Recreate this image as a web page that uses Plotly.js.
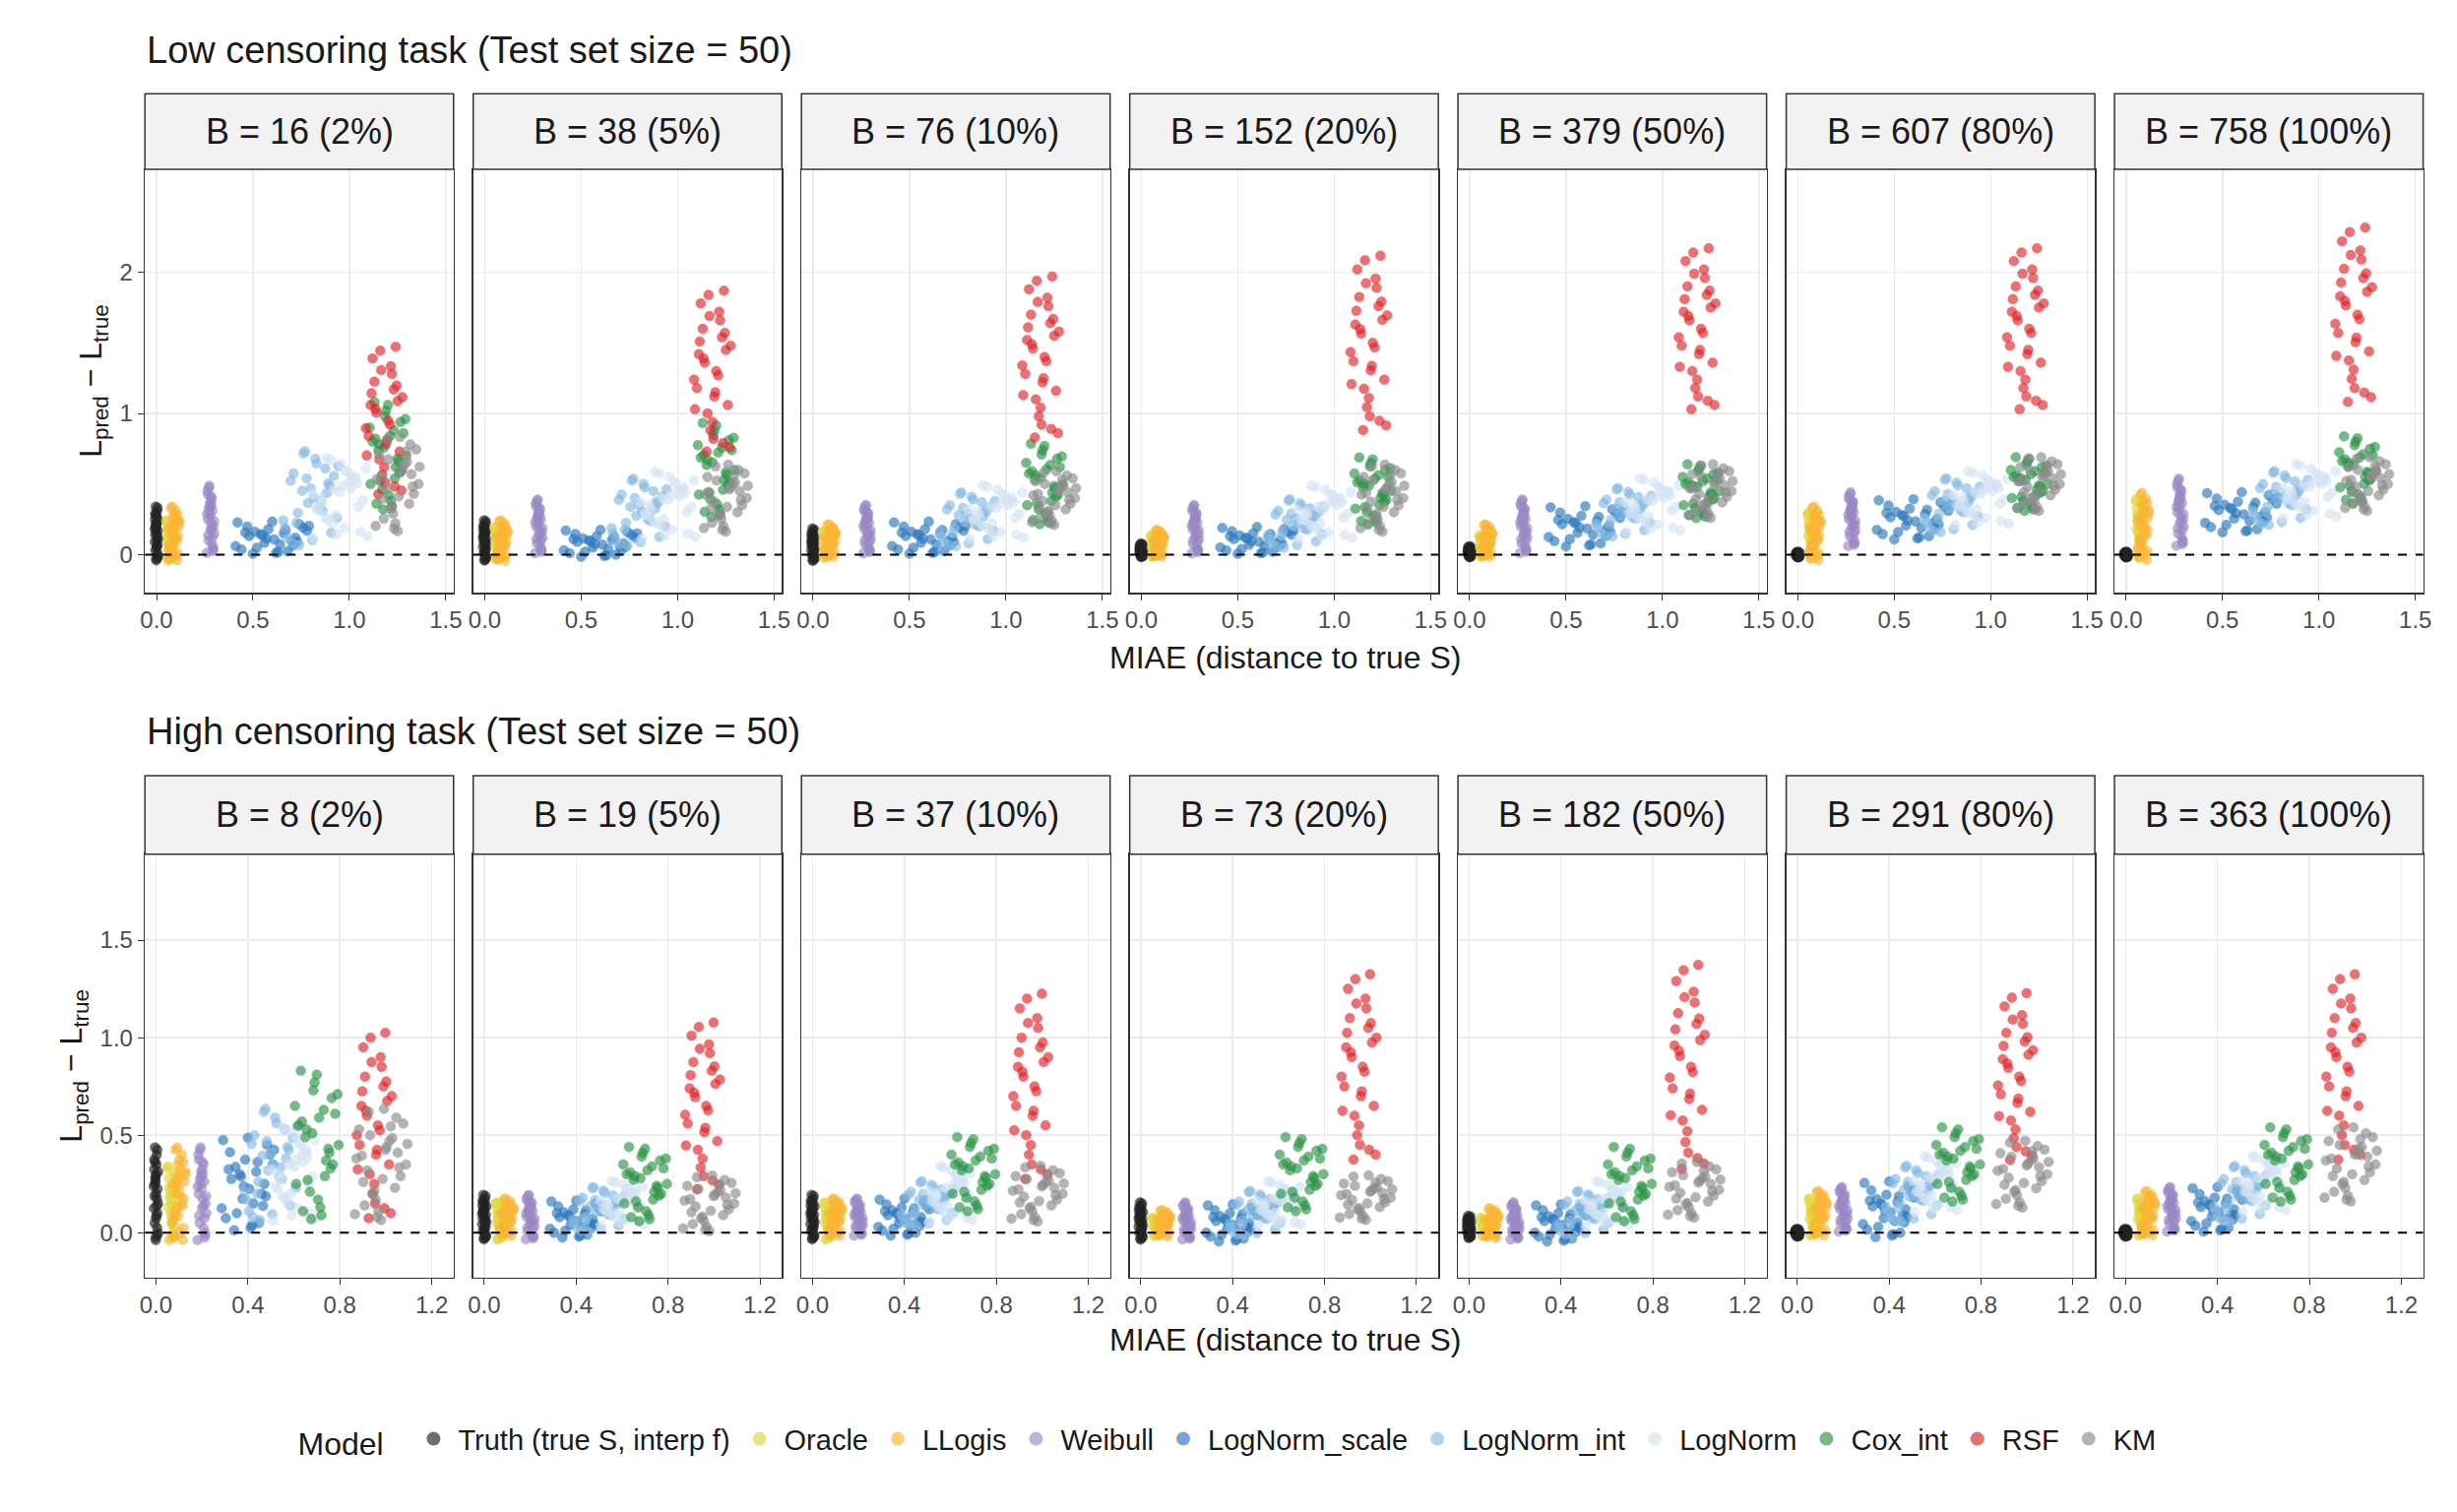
<!DOCTYPE html>
<html>
<head>
<meta charset="utf-8">
<script src="https://cdn.plot.ly/plotly-3.0.1.min.js"></script>
</head>
<body style="margin:0">
<div id="myDiv" style="width:2496px;height:1536px"></div>
<script>
// models and colours
var models = ["Truth (true S, interp f)", "Oracle", "LLogis", "Weibull", "LogNorm_scale", "LogNorm_int", "LogNorm", "Cox_int", "RSF", "KM"];
var colors = ["#222222", "#E3D73F", "#FBB533", "#9A88C6", "#2B78BE", "#86BBE4", "#D3E4F4", "#2A9447", "#DE2429", "#8C8C8C"];

var lowLabels = ["B = 16 (2%)", "B = 38 (5%)", "B = 76 (10%)", "B = 152 (20%)", "B = 379 (50%)", "B = 607 (80%)", "B = 758 (100%)"];
var highLabels = ["B = 8 (2%)", "B = 19 (5%)", "B = 37 (10%)", "B = 73 (20%)", "B = 182 (50%)", "B = 291 (80%)", "B = 363 (100%)"];

// hand-typed spread pattern (offsets in -1..1), shared by all clouds
var patX = [-0.9, 0.3, -0.2, 0.7, 0.1, -0.6, 0.9, -0.4, 0.5, 0.0, -0.8, 0.6, -0.1, 0.2, -0.5, 0.8, -0.3, 0.4, -0.7, 0.05, 0.95, -0.95, 0.35, -0.25, 0.65, -0.45, 0.15, -0.65, 0.55, -0.15];
var patY = [-0.3, 0.8, -0.9, 0.1, 0.4, -0.6, -0.2, 0.95, -0.7, 0.0, 0.5, -0.4, -0.95, 0.6, 0.2, -0.8, 0.3, -0.1, 0.7, -0.5, 0.45, 0.15, -0.25, 0.35, -0.85, 0.65, -0.45, -0.05, 0.9, 0.25];

// low censoring: model x centre / x half-range
var lowCx = [0.0, 0.07, 0.09, 0.28, 0.6, 0.8, 0.95, 1.2, 1.18, 1.25];
var lowSx = [0.01, 0.02, 0.03, 0.02, 0.2, 0.15, 0.15, 0.1, 0.1, 0.12];
// per panel: [y centre, y half-range] per model
var lowY = [
  [[0.15,0.2],[0.1,0.15],[0.15,0.2],[0.25,0.25],[0.12,0.12],[0.4,0.35],[0.4,0.3],[0.7,0.4],[0.95,0.55],[0.5,0.35]],
  [[0.1,0.15],[0.08,0.12],[0.1,0.15],[0.2,0.2],[0.08,0.1],[0.3,0.25],[0.35,0.25],[0.6,0.35],[1.3,0.6],[0.4,0.25]],
  [[0.07,0.12],[0.07,0.1],[0.1,0.12],[0.18,0.18],[0.12,0.12],[0.25,0.2],[0.3,0.2],[0.5,0.3],[1.4,0.6],[0.4,0.2]],
  [[0.03,0.05],[0.06,0.08],[0.08,0.1],[0.18,0.18],[0.1,0.1],[0.22,0.18],[0.3,0.2],[0.45,0.25],[1.5,0.65],[0.4,0.25]],
  [[0.02,0.04],[0.06,0.08],[0.1,0.12],[0.2,0.2],[0.2,0.15],[0.3,0.18],[0.35,0.2],[0.45,0.2],[1.6,0.6],[0.45,0.2]],
  [[0.0,0.02],[0.15,0.15],[0.15,0.2],[0.25,0.2],[0.25,0.15],[0.35,0.2],[0.4,0.2],[0.5,0.2],[1.6,0.6],[0.5,0.2]],
  [[0.0,0.02],[0.2,0.2],[0.2,0.25],[0.3,0.25],[0.3,0.15],[0.4,0.2],[0.45,0.2],[0.6,0.25],[1.7,0.65],[0.5,0.2]]
];

// high censoring
var highCx = [0.0, 0.07, 0.1, 0.2, 0.4, 0.5, 0.6, 0.7, 0.95, 0.98];
var highSx = [0.01, 0.02, 0.03, 0.02, 0.12, 0.12, 0.1, 0.1, 0.08, 0.12];
var highY = [
  [[0.2,0.25],[0.15,0.2],[0.2,0.25],[0.2,0.25],[0.25,0.25],[0.35,0.3],[0.3,0.25],[0.45,0.4],[0.55,0.5],[0.35,0.3]],
  [[0.08,0.12],[0.06,0.1],[0.08,0.1],[0.08,0.12],[0.07,0.1],[0.12,0.12],[0.15,0.12],[0.25,0.2],[0.65,0.45],[0.15,0.15]],
  [[0.08,0.12],[0.06,0.1],[0.08,0.1],[0.08,0.1],[0.08,0.1],[0.15,0.12],[0.2,0.15],[0.3,0.2],[0.75,0.5],[0.2,0.15]],
  [[0.06,0.1],[0.03,0.05],[0.05,0.07],[0.06,0.1],[0.05,0.1],[0.1,0.12],[0.15,0.12],[0.3,0.2],[0.85,0.5],[0.18,0.12]],
  [[0.03,0.06],[0.03,0.05],[0.05,0.08],[0.06,0.1],[0.05,0.1],[0.1,0.12],[0.15,0.12],[0.25,0.2],[0.85,0.55],[0.22,0.15]],
  [[0.0,0.02],[0.08,0.1],[0.1,0.12],[0.12,0.12],[0.12,0.15],[0.2,0.15],[0.25,0.15],[0.35,0.2],[0.8,0.45],[0.3,0.18]],
  [[0.0,0.02],[0.08,0.1],[0.1,0.12],[0.12,0.12],[0.12,0.12],[0.2,0.15],[0.25,0.15],[0.35,0.2],[0.85,0.5],[0.35,0.2]]
];

var data = [];
var layout = {
  width: 2496, height: 1536,
  paper_bgcolor: "white", plot_bgcolor: "white",
  font: {family: "Liberation Sans, Arial", color: "#1a1a1a", size: 22},
  margin: {t: 0, b: 0, l: 0, r: 0},
  showlegend: true,
  legend: {orientation: "h", x: 0.5, xanchor: "center", y: 0.048, yanchor: "middle",
    title: {text: "Model  ", font: {size: 32}}, font: {size: 29}, itemsizing: "constant", itemwidth: 40},
  shapes: [], annotations: []
};

var rows = [
  {cx: lowCx, sx: lowSx, ys: lowY, labels: lowLabels, dom: [0.608, 0.888], strip: [0.888, 0.938],
   xr: [-0.06, 1.54], xt: [0, 0.5, 1, 1.5], yr: [-0.27, 2.73], yt: [0, 1, 2], yf: "d",
   title: "Low censoring task (Test set size = 50)", ty: 0.967, xty: 0.565},
  {cx: highCx, sx: highSx, ys: highY, labels: highLabels, dom: [0.155, 0.435], strip: [0.435, 0.487],
   xr: [-0.048, 1.295], xt: [0, 0.4, 0.8, 1.2], yr: [-0.23, 1.94], yt: [0, 0.5, 1, 1.5], yf: ".1f",
   title: "High censoring task (Test set size = 50)", ty: 0.516, xty: 0.114}
];

rows.forEach(function (row, r) {
  for (var c = 0; c < 7; c++) {
    var k = r * 7 + c + 1;
    var x0 = 0.059 + c * 0.1336, x1 = x0 + 0.1256;
    var xa = "xaxis" + (k === 1 ? "" : k), ya = "yaxis" + (k === 1 ? "" : k);
    var xs = "x" + (k === 1 ? "" : k), ys = "y" + (k === 1 ? "" : k);
    layout[xa] = {domain: [x0, x1], anchor: ys, range: row.xr, tickvals: row.xt, tickformat: ".1f",
      showgrid: true, gridcolor: "#EBEBEB", gridwidth: 1.5, zeroline: false, showline: true, mirror: true,
      linecolor: "#333", linewidth: 1.5, ticks: "outside", ticklen: 6, tickcolor: "#333",
      tickfont: {size: 24, color: "#4d4d4d"}};
    layout[ya] = {domain: row.dom, anchor: xs, range: row.yr, tickvals: row.yt, tickformat: row.yf,
      showgrid: true, gridcolor: "#EBEBEB", gridwidth: 1.5, zeroline: false, showline: true, mirror: true,
      linecolor: "#333", linewidth: 1.5, ticks: c === 0 ? "outside" : "", ticklen: 6, tickcolor: "#333",
      showticklabels: c === 0, tickfont: {size: 24, color: "#4d4d4d"}};
    if (c === 0) layout[ya].title = {text: "L<sub>pred</sub> − L<sub>true</sub>", font: {size: 32}, standoff: 8};

    // dashed zero line
    layout.shapes.push({type: "line", xref: xs + " domain", yref: ys, x0: 0, x1: 1, y0: 0, y1: 0,
      line: {color: "black", width: 2, dash: "dash"}});
    // strip
    layout.shapes.push({type: "rect", xref: "paper", yref: "paper", x0: x0, x1: x1, y0: row.strip[0], y1: row.strip[1],
      fillcolor: "#F2F2F2", line: {color: "#333", width: 1.5}});
    layout.annotations.push({xref: "paper", yref: "paper", x: (x0 + x1) / 2, y: (row.strip[0] + row.strip[1]) / 2,
      xanchor: "center", yanchor: "middle",
      text: row.labels[c], showarrow: false, font: {size: 36, color: "#1a1a1a"}});

    for (var m = 0; m < models.length; m++) {
      var px = [], py = [];
      for (var i = 0; i < patX.length; i++) {
        px.push(row.cx[m] + row.sx[m] * patX[i]);
        py.push(row.ys[c][m][0] + row.ys[c][m][1] * patY[(i + m * 7) % patY.length]);
      }
      data.push({type: "scatter", mode: "markers", x: px, y: py, xaxis: xs, yaxis: ys,
        name: models[m], legendgroup: models[m], showlegend: k === 1,
        marker: {color: colors[m], size: 10, opacity: 0.65, line: {color: colors[m], width: 0.5}}});
    }
  }
  layout.annotations.push({xref: "paper", yref: "paper", x: 0.059, y: row.ty, xanchor: "left", yanchor: "middle",
    text: row.title, showarrow: false, font: {size: 38}});
  layout.annotations.push({xref: "paper", yref: "paper", x: 0.523, y: row.xty, xanchor: "center", yanchor: "middle",
    text: "MIAE (distance to true S)", showarrow: false, font: {size: 32}});
});

Plotly.newPlot("myDiv", data, layout, {staticPlot: true});
</script>
</body>
</html>
